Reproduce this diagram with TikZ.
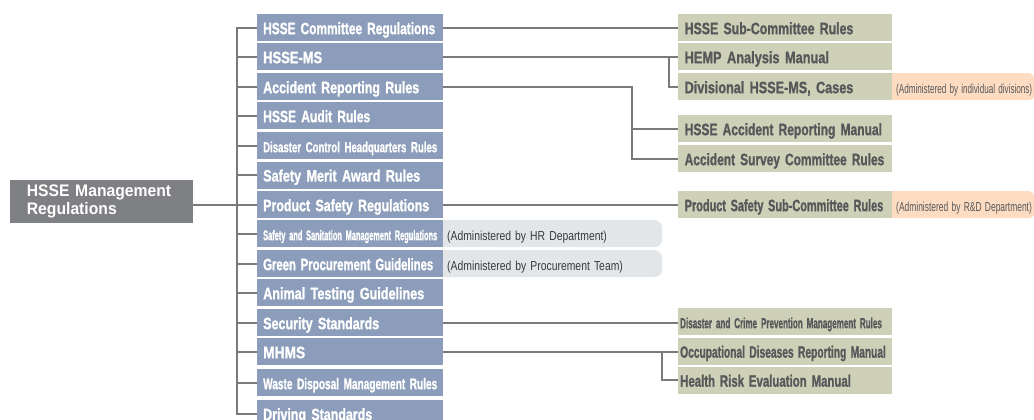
\documentclass[tikz,border=0pt]{standalone}
\usepackage{fontspec}
\usepackage{graphicx}
\newfontfamily\condb{Liberation Sans Bold}[FakeStretch=0.78, FakeBold=1.2]
\newfontfamily\condr{Liberation Sans}[FakeStretch=0.85]
\newfontfamily\mainff{Liberation Sans Bold}[FakeStretch=0.94]
\newcommand\fw[2]{\resizebox{#1pt}{\height}{#2}}
\definecolor{blueC}{HTML}{8B9DBA}
\definecolor{greenC}{HTML}{CED1B8}
\definecolor{mainC}{HTML}{7F8083}
\definecolor{orgC}{HTML}{FDDCC2}
\definecolor{pillC}{HTML}{E2E6E9}
\definecolor{gtxt}{HTML}{57585A}
\definecolor{ptxt}{HTML}{3A3A3A}
\definecolor{lineC}{HTML}{7A7A7A}
\begin{document}
\begin{tikzpicture}[x=1pt,y=-1pt,
  box/.style={anchor=north west, minimum height=27pt, inner ysep=0pt,
    align=left, text height=14.5pt, text depth=1.5pt},
  blk/.style={box, fill=blueC, text=white, font=\condb\fontsize{16.5}{18}\selectfont,
    inner xsep=6pt, text width=174pt},
  grn/.style={box, fill=greenC, text=gtxt, font=\condb\fontsize{16.5}{18}\selectfont,
    inner xsep=6.5pt, text width=201pt},
  grnb/.style={grn, inner xsep=2pt, text width=210pt},
  org/.style={box, fill=orgC, rounded corners=5pt, text=gtxt,
    font=\condr\fontsize{13}{14}\selectfont, inner xsep=0pt, text width=152pt},
  pill/.style={box, fill=pillC, rounded corners=8pt, text=ptxt,
    font=\condr\fontsize{13}{15}\selectfont, inner xsep=14pt, text width=201pt},
  mainbox/.style={anchor=north west, fill=mainC, text=white,
    font=\mainff\fontsize{16.7}{17.6}\selectfont,
    minimum width=183pt, minimum height=43pt, inner xsep=16.7pt, text width=149.6pt, align=left},
  conn/.style={draw=lineC, line width=1.7pt}]
\useasboundingbox (0,0) rectangle (1034,420);
\clip (0,0) rectangle (1034,420);

% background pills and tags
\node[pill] (p7) at (433,220) {\fw{159.7}{(Administered by HR Department)}};
\node[pill] (p8) at (433,250) {\fw{175.7}{(Administered by Procurement Team)}};
\node[org] (o2) at (882,73) {\hspace*{14pt}\fw{136}{(Administered by individual divisions)}};
\node[org] (o5) at (882,191) {\hspace*{14pt}\fw{135.7}{(Administered by R\&D Department)}};

% main box
\node[mainbox] (main) at (10,180) {HSSE Management\\Regulations};

% blue column
\node[blk] (b0) at (257,14) {\fw{172}{HSSE Committee Regulations}};
\node[blk] (b1) at (257,43) {\fw{59}{HSSE-MS}};
\node[blk] (b2) at (257,73) {\fw{156}{Accident Reporting Rules}};
\node[blk] (b3) at (257,102) {\fw{107}{HSSE Audit Rules}};
\node[blk] (b4) at (257,132) {\fontsize{14.5}{16}\selectfont\fw{174}{Disaster Control Headquarters Rules}};
\node[blk] (b5) at (257,161.3) {\fw{157}{Safety Merit Award Rules}};
\node[blk] (b6) at (257,191) {\fw{166}{Product Safety Regulations}};
\node[blk] (b7) at (257,220) {\fontsize{14}{15}\selectfont\fw{174}{Safety and Sanitation Management Regulations}};
\node[blk] (b8) at (257,250) {\fw{170}{Green Procurement Guidelines}};
\node[blk] (b9) at (257,279) {\fw{161}{Animal Testing Guidelines}};
\node[blk] (b10) at (257,309) {\fw{116}{Security Standards}};
\node[blk] (b11) at (257,338) {\fw{42}{MHMS}};
\node[blk] (b12) at (257,369) {\fontsize{15.5}{17}\selectfont\fw{174}{Waste Disposal Management Rules}};
\node[blk] (b13) at (257,400) {\fw{109}{Driving Standards}};

% green column
\node[grn] (g0) at (678,14) {\fw{168.6}{HSSE Sub-Committee Rules}};
\node[grn] (g1) at (678,43) {\fw{144.3}{HEMP Analysis Manual}};
\node[grn] (g2) at (678,73) {\fw{168.6}{Divisional HSSE-MS, Cases}};
\node[grn] (g3) at (678,115) {\fw{197.3}{HSSE Accident Reporting Manual}};
\node[grn] (g4) at (678,145) {\fw{199.6}{Accident Survey Committee Rules}};
\node[grn] (g5) at (678,191) {\fw{198.6}{Product Safety Sub-Committee Rules}};
\node[grnb] (g6) at (678,308) {\fontsize{14.5}{16}\selectfont\fw{201.7}{Disaster and Crime Prevention Management Rules}};
\node[grnb] (g7) at (678,337.5) {\fw{205.7}{Occupational Diseases Reporting Manual}};
\node[grnb] (g8) at (678,366.5) {\fw{170.7}{Health Risk Evaluation Manual}};

% left trunk
\draw[conn] (b0.west) -- ++(-20,0) -- ([xshift=-20pt]b13.west) -- (b13.west);
\foreach \i in {1,...,12} \draw[conn] (b\i.west) -- ++(-20,0);
\draw[conn] (main.east |- b6.west) -- ([xshift=-20pt]b6.west);

% right connectors
\draw[conn] (b0.east) -- (g0.west);
\draw[conn] (b1.east) -- (g1.west);
\draw[conn] ([xshift=-9pt]g1.west) |- (g2.west);
\draw[conn] (b2.east) -| ([xshift=-46pt]g4.west) -- (g4.west);
\draw[conn] ([xshift=-46pt]g3.west) -- (g3.west);
\draw[conn] (b6.east) -- (g5.west);
\draw[conn] (b10.east) -- (b10.east -| g6.west);
\draw[conn] (b11.east) -- (b11.east -| g7.west);
\draw[conn] ([xshift=-16pt]b11.east -| g7.west) |- (g8.west);
\end{tikzpicture}
\end{document}
